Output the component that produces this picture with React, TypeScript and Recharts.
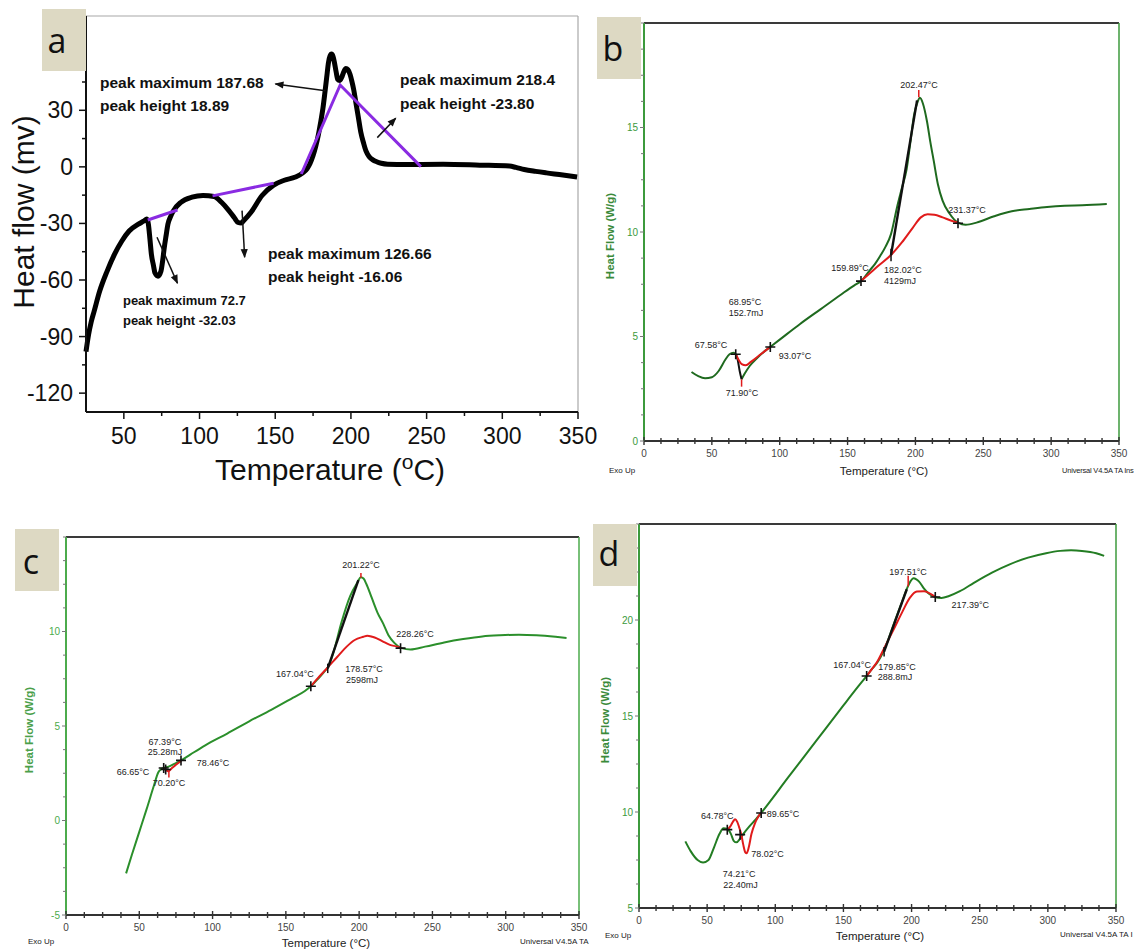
import React from 'react';
import { LineChart, Line, XAxis, YAxis, ReferenceLine } from 'recharts';

type P = [number, number];
type Note = { x: number; y: number; t: string };

const FONT = "'Liberation Sans', Arial, Helvetica, sans-serif";

// ---------------- Panel a ----------------
const aXTicks = [50, 75, 100, 125, 150, 175, 200, 225, 250, 275, 300, 325, 350];
const aYTicks = [-120, -105, -90, -75, -60, -45, -30, -15, 0, 15, 30, 45, 60, 75];
const aCurve: P[] = [
  [25, -98], [26.7, -89], [28.5, -82], [30.4, -76.5], [34, -66], [38.9, -55.4], [43.8, -46.4], [48.7, -39.3],
  [53.5, -34], [59.6, -30.4], [63, -28.8], [65.2, -27.7], [66.2, -30.4], [67.2, -38], [68.2, -46.4], [69.5, -52],
  [70.6, -56.3], [72.6, -58], [74.5, -55.4], [75.6, -50], [76.7, -42.9], [78, -36], [79.1, -30.4], [80.8, -26.5],
  [82.8, -23.2], [87.7, -18.8], [95, -16.1], [102.3, -15.2], [109.6, -15.7], [114.5, -18.8], [119.4, -23.2],
  [123, -27], [125.5, -29.5], [127.5, -29.8], [129.1, -28.6], [134, -24.1], [141.3, -15.2], [148.7, -9.8],
  [156, -7.1], [163.3, -5.4], [168.2, -3.2], [171, -1], [173, 1.8], [175, 6], [176.7, 10.7], [178.5, 17],
  [179.9, 23.2], [181.5, 31], [182.8, 39.3], [184, 47.5], [185.2, 55.4], [186.2, 58.8], [187.2, 59.8],
  [188.2, 58.5], [189.1, 55.4], [190.2, 50.5], [191.3, 46.4], [192.5, 45.8], [193.8, 47.3], [195.2, 50.2],
  [196.7, 52.1], [198, 51.5], [199.4, 49.1], [200.6, 45.5], [201.8, 41.1], [203.3, 34], [204.8, 26.8],
  [206.5, 18.5], [208.4, 12.5], [210, 8.3], [212.1, 5.4], [214.5, 3.7], [217, 2.7], [220, 1.9], [224.3, 1.4],
  [236.5, 1.25], [260.9, 1.4], [285.2, 0.9], [304.8, 0.4], [309, -0.3], [314.5, -1.4], [322, -2.4],
  [329.1, -3.2], [340, -4.3], [349.4, -5.4],
];
const aBase1: P[] = [[65.8, -28.2], [85.4, -22.9]];
const aBase2: P[] = [[108.6, -15.4], [148.9, -8.7]];
const aBase3: P[] = [[167.2, -3.8], [192.9, 43.4], [246.2, 0.1]];
const aArrow1: P[] = [[183.2, 40.4], [150.1, 44]];
const aArrow2: P[] = [[217.4, 15.5], [229.6, 25.8]];
const aArrow3: P[] = [[128.1, -23.2], [129.8, -47.9]];
const aArrow4: P[] = [[71.9, -37.3], [85.4, -61.7]];
const aNotesLarge: Note[] = [
  { x: 34.2, y: 45, t: 'peak maximum 187.68' },
  { x: 34.2, y: 32.3, t: 'peak height 18.89' },
  { x: 232.4, y: 46.1, t: 'peak maximum 218.4' },
  { x: 232.4, y: 33.4, t: 'peak height -23.80' },
  { x: 145.2, y: -45.7, t: 'peak maximum 126.66' },
  { x: 145.2, y: -57.9, t: 'peak height -16.06' },
];
const aNotesSmall: Note[] = [
  { x: 49.4, y: -71.1, t: 'peak maximum 72.7' },
  { x: 49.4, y: -81.7, t: 'peak height -32.03' },
];

// ---------------- shared DSC axes ----------------
const dscXTicks = [0, 12.5, 25, 37.5, 50, 62.5, 75, 87.5, 100, 112.5, 125, 137.5, 150, 162.5, 175, 187.5, 200,
  212.5, 225, 237.5, 250, 262.5, 275, 287.5, 300, 312.5, 325, 337.5, 350];

// ---------------- Panel b ----------------
const bYTicks = [0, 1.25, 2.5, 3.75, 5, 6.25, 7.5, 8.75, 10, 11.25, 12.5, 13.75, 15, 16.25, 17.5, 18.75, 20];
const bYLabels = [0, 5, 10, 15];
const bGreen1: P[] = [[35, 3.3], [40, 3.1], [45, 3.0], [50, 3.05], [55, 3.35], [60, 3.9], [63, 4.15], [66, 4.22], [67.6, 4.15]];
const bGreen2: P[] = [
  [71.9, 2.95], [74, 3.2], [78, 3.6], [83, 3.95], [88, 4.25], [93, 4.5], [100, 4.85], [115, 5.6], [130, 6.3],
  [145, 7.0], [155, 7.45], [160, 7.65], [166.5, 8.18], [170, 8.45], [174, 8.85], [178, 9.3], [182, 9.9],
  [186.5, 11.2], [190, 12.1], [193.5, 13.0], [196.5, 14.4], [199, 15.6], [201.5, 16.2], [203.3, 16.42],
  [205.5, 16.15], [208.5, 15.3], [211, 14.3], [213.5, 13.4], [216.5, 12.3], [220, 11.5], [225, 10.9],
  [231.4, 10.45], [237, 10.35], [245, 10.45], [258, 10.75], [271, 10.99], [284, 11.1], [297, 11.2],
  [310, 11.26], [323, 11.28], [341, 11.34],
];
const bRedLow: P[] = [[67.6, 4.15], [70, 3.85], [72, 3.68], [75, 3.62], [79, 3.8], [85, 4.1], [93, 4.5]];
const bRedHigh: P[] = [[159.9, 7.65], [166, 8.0], [172, 8.35], [182, 8.9], [190, 9.5], [198, 10.2], [204, 10.7],
  [209, 10.85], [214, 10.83], [220, 10.7], [226, 10.55], [231.4, 10.45]];
const bBlackDrop: P[] = [[67.6, 4.15], [69, 3.9], [70.5, 3.35], [71.9, 2.95]];
const bTangent: P[] = [[182.02, 8.9], [201.2, 16.3]];
const bRedMarks: P[][] = [[[71.9, 2.95], [71.9, 2.6]], [[202.47, 16.45], [202.47, 16.8]]];
const bBlackMarks: P[][] = [[[182.02, 8.6], [182.02, 9.2]]];
const bCrosses: P[] = [[67.58, 4.15], [93.07, 4.5], [159.89, 7.65], [231.37, 10.42]];
const bLabels: Note[] = [
  { x: 202.6, y: 17.03, t: '202.47°C' }, { x: 238.0, y: 11.05, t: '231.37°C' },
  { x: 151.8, y: 8.28, t: '159.89°C' }, { x: 190.8, y: 8.18, t: '182.02°C' },
  { x: 188.6, y: 7.66, t: '4129mJ' }, { x: 74.4, y: 6.65, t: '68.95°C' },
  { x: 75.2, y: 6.12, t: '152.7mJ' }, { x: 49.4, y: 4.59, t: '67.58°C' },
  { x: 111.3, y: 4.07, t: '93.07°C' }, { x: 72.2, y: 2.3, t: '71.90°C' },
];

// ---------------- Panel c ----------------
const cYTicks = [-5, -3.75, -2.5, -1.25, 0, 1.25, 2.5, 3.75, 5, 6.25, 7.5, 8.75, 10, 11.25, 12.5, 13.75, 15];
const cYLabels = [-5, 0, 5, 10];
const cGreen: P[] = [
  [41, -2.8], [45, -1.8], [50, -0.6], [55, 0.6], [60, 1.85], [63, 2.55], [65, 2.72], [66.65, 2.78], [70, 2.85],
  [74, 3.0], [78.5, 3.18], [85, 3.5], [95, 3.98], [110, 4.6], [125, 5.25], [140, 5.85], [155, 6.5], [163, 6.85],
  [167, 7.1], [172, 7.5], [176, 7.85], [179, 8.15], [182.5, 8.9], [188, 10.5], [194, 11.9], [198.5, 12.55],
  [201.2, 12.87], [203, 12.8], [205, 12.5], [208.5, 11.8], [212.5, 11.0], [216.5, 10.4], [220, 9.8], [224, 9.4],
  [229, 9.12], [235, 9.05], [245, 9.2], [258, 9.42], [271, 9.6], [284, 9.74], [296, 9.8], [309, 9.83],
  [321, 9.8], [334, 9.72], [341.5, 9.66],
];
const cRedLow: P[] = [[66.65, 2.75], [68, 2.68], [69.8, 2.6], [72, 2.75], [75, 2.95], [78.5, 3.15]];
const cRedHigh: P[] = [[167, 7.1], [172, 7.55], [178, 8.05], [185, 8.65], [191.5, 9.2], [197, 9.55], [202.9, 9.72],
  [205.5, 9.78], [209, 9.72], [212, 9.64], [216, 9.48], [221, 9.29], [226, 9.2], [229, 9.12]];
const cTangent: P[] = [[178.57, 8.05], [199.5, 12.72]];
const cRedMarks: P[][] = [[[70.2, 2.62], [70.2, 2.28]], [[201.22, 12.85], [201.22, 13.1]]];
const cBlackMarks: P[][] = [[[178.57, 7.8], [178.57, 8.3]]];
const cCrosses: P[] = [[66.65, 2.78], [68.0, 2.7], [78.46, 3.18], [167.04, 7.1], [228.26, 9.12]];
const cLabels: Note[] = [
  { x: 201.3, y: 13.52, t: '201.22°C' }, { x: 238.1, y: 9.87, t: '228.26°C' },
  { x: 156.2, y: 7.75, t: '167.04°C' }, { x: 203.3, y: 8.02, t: '178.57°C' },
  { x: 202, y: 7.43, t: '2598mJ' }, { x: 67.5, y: 4.15, t: '67.39°C' },
  { x: 67.5, y: 3.62, t: '25.28mJ' }, { x: 100.3, y: 3.04, t: '78.46°C' },
  { x: 45.7, y: 2.57, t: '66.65°C' }, { x: 70.3, y: 1.98, t: '70.20°C' },
];

// ---------------- Panel d ----------------
const dYTicks = [5, 6.25, 7.5, 8.75, 10, 11.25, 12.5, 13.75, 15, 16.25, 17.5, 18.75, 20, 21.25, 22.5, 23.75, 25];
const dYLabels = [5, 10, 15, 20];
const dGreen: P[] = [
  [34, 8.47], [38, 7.95], [43, 7.5], [47, 7.37], [51, 7.5], [55, 8.15], [59, 8.85], [62, 9.15], [65, 9.1],
  [67.5, 8.85], [69.5, 8.5], [71.5, 8.42], [74, 8.6], [77, 8.9], [81, 9.25], [85.5, 9.6], [89.6, 9.95],
  [110, 11.85], [130, 13.7], [150, 15.55], [161, 16.55], [167, 17.08], [171, 17.45],
  [175, 17.8], [179, 18.3], [183, 19.0], [188, 20.0], [193, 20.95], [197, 21.7], [199.5, 22.05], [201.3, 22.17],
  [203.5, 22.12], [205.5, 22.0], [209, 21.65], [213, 21.35], [217, 21.2], [222, 21.15], [227.5, 21.25],
  [235.5, 21.5], [246, 21.95], [259, 22.47], [272, 22.9], [285.5, 23.25], [298.7, 23.48], [309, 23.6],
  [317, 23.63], [325, 23.6], [335.5, 23.48], [341.3, 23.34],
];
const dRedLow: P[] = [[64.8, 9.08], [67, 9.25], [69, 9.5], [70.5, 9.62], [72, 9.5], [73.5, 9.2], [75, 8.85],
  [76.5, 8.3], [78, 7.9], [79, 7.85], [80.5, 8.15], [82.5, 8.85], [85, 9.4], [87.5, 9.75], [89.6, 9.95]];
const dRedHigh: P[] = [[167, 17.08], [171, 17.45], [175, 17.85], [180, 18.55], [186.8, 19.5], [193.4, 20.45],
  [198.7, 21.15], [203.9, 21.48], [209.2, 21.5], [214.5, 21.34], [217.4, 21.2]];
const dTangent: P[] = [[179.85, 18.35], [196.5, 21.6]];
const dRedMarks: P[][] = [[[197.51, 21.75], [197.51, 22.3]]];
const dBlackMarks: P[][] = [[[179.85, 18.1], [179.85, 18.6]]];
const dCrosses: P[] = [[64.78, 9.08], [74.21, 8.82], [89.65, 9.95], [167.04, 17.08], [217.39, 21.2]];
const dLabels: Note[] = [
  { x: 197.4, y: 22.5, t: '197.51°C' }, { x: 243.1, y: 20.76, t: '217.39°C' },
  { x: 156.4, y: 17.67, t: '167.04°C' }, { x: 189.3, y: 17.55, t: '179.85°C' },
  { x: 187.8, y: 17.01, t: '288.8mJ' }, { x: 57.4, y: 9.77, t: '64.78°C' },
  { x: 105.7, y: 9.91, t: '89.65°C' }, { x: 94.3, y: 7.83, t: '78.02°C' },
  { x: 73.5, y: 6.77, t: '74.21°C' }, { x: 74.5, y: 6.18, t: '22.40mJ' },
];

// ---------------- helpers ----------------
const ML = 60, MR = 10, MT = 10, MB = 40;
const MRA = 26;
const mk = (pts: P[]) => pts.map(([x, y]) => ({ x, y }));
const mkNotes = (n: Note[]) => n.map((d) => ({ x: d.x, y: d.y, t: d.t }));

const ATickX = (p: any) => {
  const { x, y, payload } = p;
  const v = payload.value;
  const major = v % 50 === 0;
  return (
    <g>
      <line x1={x} x2={x} y1={y} y2={y + (major ? 7 : 4)} stroke="#111" strokeWidth={1.5} />
      {major && (
        <text x={x} y={y + 24} textAnchor="middle" dominantBaseline="central" fontSize={23} fill="#111" fontFamily={FONT}>{v}</text>
      )}
    </g>
  );
};
const ATickY = (p: any) => {
  const { x, y, payload } = p;
  const v = payload.value;
  const major = v % 30 === 0;
  return (
    <g>
      <line x1={x - (major ? 7 : 4)} x2={x} y1={y} y2={y} stroke="#111" strokeWidth={1.5} />
      {major && v <= 30 && (
        <text x={x - 13} y={y} textAnchor="end" dominantBaseline="central" fontSize={23} fill="#111" fontFamily={FONT}>{v}</text>
      )}
    </g>
  );
};
const DscTickX = (p: any) => {
  const { x, y, payload } = p;
  const v = payload.value;
  const major = v % 50 === 0;
  const h = major ? 4 : 3;
  return (
    <g>
      <line x1={x} x2={x} y1={y - h} y2={y + h} stroke="#333" strokeWidth={1.4} />
      {major && (
        <text x={x} y={y + 12} textAnchor="middle" dominantBaseline="central" fontSize={10} fill="#444" fontFamily={FONT}>{v}</text>
      )}
    </g>
  );
};
const makeDscTickY = (labels: number[], color: string) => (p: any) => {
  const { x, y, payload } = p;
  const v = payload.value;
  const show = labels.indexOf(v) >= 0;
  return (
    <g>
      <line x1={x - (show ? 4 : 3)} x2={x} y1={y} y2={y} stroke="#777" strokeWidth={1} />
      {show && (
        <text x={x - 6} y={y} textAnchor="end" dominantBaseline="central" fontSize={10} fill={color} fontFamily={FONT}>{v}</text>
      )}
    </g>
  );
};
const crossDot = (p: any) => {
  const { cx, cy } = p;
  if (cx == null || cy == null) return <g />;
  return <path d={`M${cx - 5},${cy}H${cx + 5}M${cx},${cy - 5}V${cy + 5}`} stroke="#111" strokeWidth={1.6} fill="none" />;
};
const makeTextDot = (size: number, weight: string, fill: string, anchor: string) => (p: any) => {
  const { cx, cy, payload } = p;
  if (cx == null || cy == null) return <g />;
  return (
    <text x={cx} y={cy} textAnchor={anchor} dominantBaseline="central" fontSize={size} fontWeight={weight} fill={fill} fontFamily={FONT}>
      {payload.t}
    </text>
  );
};

const seg = (key: string, pts: P[], color: string, w: number, type: any = 'linear', extra: any = {}) => (
  <Line key={key} data={mk(pts)} dataKey="y" type={type} stroke={color} strokeWidth={w} dot={false} activeDot={false}
    isAnimationActive={false} {...extra} />
);
const textLayer = (key: string, notes: Note[], render: any) => (
  <Line key={key} data={mkNotes(notes)} dataKey="y" stroke="none" dot={render} activeDot={false} isAnimationActive={false} />
);

const Box = ({ x, y, w, h, letter, cx, cy }: any) => (
  <>
    <div style={{ position: 'absolute', left: x, top: y, width: w, height: h, background: '#ddd9c3' }} />
    <div style={{ position: 'absolute', left: cx, top: cy, transform: 'translate(-50%,-50%)', fontSize: 34, lineHeight: 1, color: '#111', fontFamily: "'Open Sans', 'Liberation Sans', sans-serif" }}>{letter}</div>
  </>
);
const HText = ({ cx, cy, size, color = '#222', weight = 'normal', children, family = FONT }: any) => (
  <div style={{ position: 'absolute', left: cx, top: cy, transform: 'translate(-50%,-50%)', fontSize: size, lineHeight: 1, color, fontWeight: weight, whiteSpace: 'nowrap', fontFamily: family }}>{children}</div>
);
const LText = ({ x, cy, size, color = '#222', spacing = 0, children }: any) => (
  <div style={{ position: 'absolute', left: x, top: cy, transform: 'translateY(-50%)', fontSize: size, lineHeight: 1, color, whiteSpace: 'nowrap', letterSpacing: spacing, fontFamily: FONT }}>{children}</div>
);
const VText = ({ cx, cy, size, color = '#222', weight = 'normal', children }: any) => (
  <div style={{ position: 'absolute', left: cx, top: cy, transform: 'translate(-50%,-50%) rotate(-90deg)', fontSize: size, lineHeight: 1, color, fontWeight: weight, whiteSpace: 'nowrap', fontFamily: FONT }}>{children}</div>
);

function PanelA() {
  const box = { x: 86, y: 16, w: 492, h: 396 };
  return (
    <div style={{ position: 'absolute', left: box.x - ML, top: box.y - MT }}>
      <LineChart width={box.w + ML + MRA} height={box.h + MT + MB} margin={{ top: MT, right: MRA, left: 0, bottom: 0 }}>
        <XAxis type="number" dataKey="x" domain={[25, 350]} ticks={aXTicks} interval={0} tickLine={false} tickSize={0}
          tickMargin={0} height={MB} axisLine={{ stroke: '#111', strokeWidth: 2 }} tick={(p: any) => <ATickX {...p} />} />
        <YAxis type="number" domain={[-130, 80]} ticks={aYTicks} interval={0} tickLine={false} tickSize={0}
          tickMargin={0} width={ML} axisLine={{ stroke: '#111', strokeWidth: 2 }} tick={(p: any) => <ATickY {...p} />} />
        <ReferenceLine y={80} stroke="#a8a8a8" strokeWidth={1.2} />
        <ReferenceLine x={350} stroke="#a8a8a8" strokeWidth={1.2} />
        {seg('curve', aCurve, '#000', 5, 'monotone')}
        {seg('b1', aBase1, '#8a2be2', 3)}
        {seg('b2', aBase2, '#8a2be2', 3)}
        {seg('b3', aBase3, '#8a2be2', 3)}
        {seg('ar1', aArrow1, '#111', 1.5, 'linear', { markerEnd: 'url(#arrowA)' })}
        {seg('ar2', aArrow2, '#111', 1.5, 'linear', { markerEnd: 'url(#arrowA)' })}
        {seg('ar3', aArrow3, '#111', 1.5, 'linear', { markerEnd: 'url(#arrowA)' })}
        {seg('ar4', aArrow4, '#111', 1.5, 'linear', { markerEnd: 'url(#arrowA)' })}
        {textLayer('nl', aNotesLarge, makeTextDot(15.5, 'bold', '#111', 'start'))}
        {textLayer('ns', aNotesSmall, makeTextDot(13, 'bold', '#111', 'start'))}
      </LineChart>
    </div>
  );
}

function DscPanel(props: any) {
  const { box, yDomain, yTicks, yLabels, axisGreen, curveGreen, greens, redLow, redHigh, blackDrop, tangent,
    redMarks, blackMarks, crosses, labels } = props;
  const tickY = makeDscTickY(yLabels, axisGreen);
  return (
    <div style={{ position: 'absolute', left: box.x - ML, top: box.y - MT }}>
      <LineChart width={box.w + ML + MR} height={box.h + MT + MB} margin={{ top: MT, right: MR, left: 0, bottom: 0 }}>
        <XAxis type="number" dataKey="x" domain={[0, 350]} ticks={dscXTicks} interval={0} tickLine={false} tickSize={0}
          tickMargin={0} height={MB} axisLine={{ stroke: '#333', strokeWidth: 2 }} tick={(p: any) => <DscTickX {...p} />} />
        <YAxis type="number" domain={yDomain} ticks={yTicks} interval={0} tickLine={false} tickSize={0}
          tickMargin={0} width={ML} axisLine={{ stroke: axisGreen, strokeWidth: 2 }} tick={tickY} />
        <ReferenceLine y={yDomain[1]} stroke="#3a3a3a" strokeWidth={2} />
        <ReferenceLine x={350} stroke={axisGreen} strokeWidth={1.5} />
        {greens.map((g: P[], i: number) => seg('g' + i, g, curveGreen, 2, 'monotone'))}
        {blackDrop ? seg('bd', blackDrop, '#111', 2, 'monotone') : null}
        {seg('rl', redLow, '#e01b1b', 2, 'monotone')}
        {seg('rh', redHigh, '#e01b1b', 2, 'monotone')}
        {seg('tan', tangent, '#111', 2.4)}
        {redMarks.map((m: P[], i: number) => seg('rm' + i, m, '#e01b1b', 1.5))}
        {blackMarks.map((m: P[], i: number) => seg('bm' + i, m, '#111', 1.5))}
        <Line data={mk(crosses)} dataKey="y" stroke="none" dot={crossDot} activeDot={false} isAnimationActive={false} />
        {textLayer('lbl', labels, makeTextDot(9, 'normal', '#222', 'middle'))}
      </LineChart>
    </div>
  );
}

export default function App() {
  return (
    <div style={{ position: 'absolute', left: 0, top: 0, width: 1142, height: 950, overflow: 'hidden', background: '#fff', fontFamily: FONT }}>
      <svg width={0} height={0} style={{ position: 'absolute' }}>
        <defs>
          <marker id="arrowA" viewBox="0 0 10 10" refX="9" refY="5" markerWidth="11" markerHeight="9" orient="auto" markerUnits="userSpaceOnUse">
            <path d="M0,1 L10,5 L0,9 z" fill="#111" />
          </marker>
        </defs>
      </svg>

      {/* Panel a */}
      <PanelA />
      <Box x={42} y={9} w={44} h={62} letter="a" cx={57} cy={40} />
      <VText cx={24} cy={212} size={30} color="#111">Heat flow (mv)</VText>
      <HText cx={330} cy={468} size={30} color="#111">
        Temperature (<span style={{ fontSize: '0.7em', verticalAlign: '0.5em' }}>o</span>C)
      </HText>

      {/* Panel b */}
      <DscPanel box={{ x: 644, y: 23, w: 475, h: 418 }} yDomain={[0, 20]} yTicks={bYTicks} yLabels={bYLabels}
        axisGreen="#3c9a3c" curveGreen="#1f6a1f" greens={[bGreen1, bGreen2]} redLow={bRedLow} redHigh={bRedHigh}
        blackDrop={bBlackDrop} tangent={bTangent} redMarks={bRedMarks} blackMarks={bBlackMarks} crosses={bCrosses} labels={bLabels} />
      <Box x={597} y={17} w={44} h={62} letter="b" cx={613} cy={48} />
      <VText cx={611} cy={236} size={11.5} color="#3a8a3a" weight="bold">Heat Flow (W/g)</VText>
      <HText cx={884} cy={472} size={11.5}>Temperature (°C)</HText>
      <HText cx={622} cy={471} size={8}>Exo Up</HText>
      <LText x={1062} cy={471} size={7.5} spacing={-0.2}>Universal V4.5A TA Ins</LText>

      {/* Panel c */}
      <DscPanel box={{ x: 66, y: 537, w: 513, h: 378 }} yDomain={[-5, 15]} yTicks={cYTicks} yLabels={cYLabels}
        axisGreen="#4cab4c" curveGreen="#2b8f2b" greens={[cGreen]} redLow={cRedLow} redHigh={cRedHigh}
        blackDrop={null} tangent={cTangent} redMarks={cRedMarks} blackMarks={cBlackMarks} crosses={cCrosses} labels={cLabels} />
      <Box x={15} y={529} w={44} h={62} letter="c" cx={31} cy={561} />
      <VText cx={30} cy={730} size={11.5} color="#4aa04a" weight="bold">Heat Flow (W/g)</VText>
      <HText cx={326} cy={944} size={11.5}>Temperature (°C)</HText>
      <HText cx={41} cy={942} size={8}>Exo Up</HText>
      <LText x={520} cy={942} size={8}>Universal V4.5A TA</LText>

      {/* Panel d */}
      <DscPanel box={{ x: 639, y: 524, w: 477, h: 384 }} yDomain={[5, 25]} yTicks={dYTicks} yLabels={dYLabels}
        axisGreen="#3c9a3c" curveGreen="#237d23" greens={[dGreen]} redLow={dRedLow} redHigh={dRedHigh}
        blackDrop={null} tangent={dTangent} redMarks={dRedMarks} blackMarks={dBlackMarks} crosses={dCrosses} labels={dLabels} />
      <Box x={593} y={524} w={44} h={62} letter="d" cx={609} cy={553} />
      <VText cx={606} cy={720} size={11.5} color="#3a8a3a" weight="bold">Heat Flow (W/g)</VText>
      <HText cx={880} cy={937} size={11.5}>Temperature (°C)</HText>
      <HText cx={618} cy={936} size={8}>Exo Up</HText>
      <LText x={1060} cy={935} size={8}>Universal V4.5A TA I</LText>
    </div>
  );
}
